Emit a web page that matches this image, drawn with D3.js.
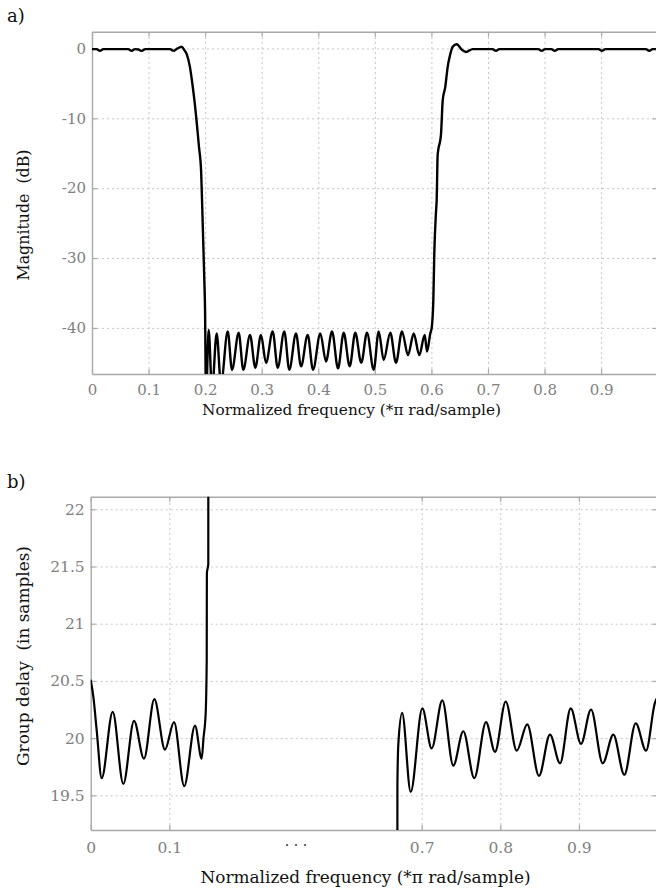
<!DOCTYPE html>
<html>
<head>
<meta charset="utf-8">
<script src="https://cdn.jsdelivr.net/npm/d3@7"></script>
<style>
  html, body { margin: 0; padding: 0; background: #fff; }
  svg { display: block; }
</style>
</head>
<body>
<div id="chart"></div>
<script>
// Panel a) magnitude response.
const magFreq = [
  0.000, 0.008, 0.014, 0.020, 0.064, 0.070, 0.076, 0.082, 0.088, 0.094,
  0.138, 0.144, 0.150, 0.1586, 0.1630, 0.1674, 0.1730, 0.1770, 0.1810, 0.1890,
  0.1930, 0.1945, 0.1967, 0.1985, 0.1998, 0.2015, 0.2063, 0.2121, 0.2204, 0.2280,
  0.2399, 0.2475, 0.2593, 0.2675, 0.2793, 0.2887, 0.2987, 0.3076, 0.3194, 0.3283,
  0.3399, 0.3488, 0.3606, 0.3695, 0.3813, 0.3907, 0.4036, 0.4136, 0.4243, 0.4349,
  0.4449, 0.4555, 0.4654, 0.4760, 0.4861, 0.4980, 0.5068, 0.5156, 0.5273, 0.5374,
  0.5480, 0.5586, 0.5687, 0.5786, 0.5881, 0.5922, 0.5980, 0.6005, 0.6034, 0.6051,
  0.6081, 0.6093, 0.6110, 0.6170, 0.6200, 0.6245, 0.6288, 0.6328, 0.6376, 0.6447,
  0.6540, 0.6611, 0.6730, 0.7080, 0.7140, 0.7200, 0.7890, 0.7950, 0.8010, 0.8120,
  0.8180, 0.8240, 0.8955, 0.9015, 0.9075, 0.9790, 0.9850, 0.9910, 1.0000
];
const magDb = [
  -0.10, -0.10, -0.35, -0.10, -0.10, -0.35, -0.10, -0.15, -0.35, -0.10,
  -0.10, -0.35, -0.05, 0.25, -0.20, -0.80, -2.6, -4.8, -7.4, -14.0,
  -17.8, -21.7, -27.9, -33.0, -37.2, -50.0, -40.3, -49.0, -40.8, -48.0,
  -40.5, -46.0, -40.7, -46.0, -41.0, -45.7, -41.0, -45.0, -40.5, -45.7,
  -40.5, -46.0, -40.8, -45.5, -41.0, -46.0, -40.8, -44.8, -40.5, -45.8,
  -40.7, -45.5, -40.7, -45.0, -40.7, -46.0, -40.5, -44.6, -40.7, -45.0,
  -40.5, -43.9, -40.8, -43.9, -41.0, -43.4, -40.8, -40.0, -36.0, -29.3,
  -23.4, -21.7, -15.3, -12.2, -7.4, -5.5, -2.6, -1.0, 0.23, 0.60,
  -0.20, -0.50, -0.10, -0.10, -0.35, -0.10, -0.10, -0.35, -0.10, -0.10,
  -0.35, -0.10, -0.10, -0.35, -0.10, -0.10, -0.35, -0.10, -0.10
];
const magXTicks = [0, 0.1, 0.2, 0.3, 0.4, 0.5, 0.6, 0.7, 0.8, 0.9, 1.0];
const magXLabels = ['0', '0.1', '0.2', '0.3', '0.4', '0.5', '0.6', '0.7', '0.8', '0.9', ''];
const magYTicks = [0, -10, -20, -30, -40];

// Panel b) group delay, two pieces either side of the broken axis.
const delayFreqLow = [
  0.0000, 0.0034, 0.0076, 0.0140, 0.0280, 0.0415, 0.0551, 0.0678, 0.0810, 0.0945,
  0.1060, 0.1190, 0.1327, 0.1412, 0.1435, 0.1463, 0.1476, 0.1478, 0.1496, 0.1497
];
const delayLow = [
  20.51, 20.36, 20.07, 19.65, 20.23, 19.60, 20.15, 19.82, 20.34, 19.90,
  20.14, 19.58, 20.11, 19.82, 20.00, 20.22, 20.68, 21.44, 21.52, 23.00
];
const delayFreqHigh = [
  0.6690, 0.6691, 0.6703, 0.6751, 0.6860, 0.7008, 0.7127, 0.7262, 0.7402, 0.7529,
  0.7669, 0.7818, 0.7933, 0.8069, 0.8209, 0.8343, 0.8492, 0.8632, 0.8760, 0.8896,
  0.9027, 0.9154, 0.9303, 0.9438, 0.9578, 0.9723, 0.9854, 0.9968, 1.0000
];
const delayHigh = [
  18.00, 19.60, 19.95, 20.22, 19.53, 20.26, 19.91, 20.33, 19.76, 20.06,
  19.65, 20.14, 19.88, 20.32, 19.89, 20.12, 19.67, 20.03, 19.78, 20.26,
  19.95, 20.25, 19.78, 20.03, 19.68, 20.13, 19.89, 20.31, 20.36
];
const delayXTicks = [0, 0.1, 0.7, 0.8, 0.9, 1.0];
const delayXLabels = ['0', '0.1', '0.7', '0.8', '0.9', ''];
const delayYTicks = [19.5, 20, 20.5, 21, 21.5, 22];

const W = 656, H = 888;
const FONT = '"DejaVu Serif", serif';
const AXIS_GREY = '#a9a9a9';
const GRID_GREY = '#c6c6c6';

const svg = d3.select('#chart').append('svg')
  .attr('width', W).attr('height', H)
  .style('font-family', FONT);

// Grid, box and inward ticks shared by both panels.
function drawFrame(id, x, y, xTicks, xLabels, yTicks, fontSize, padX) {
  const [left, right] = [x.range()[0], x.range()[x.range().length - 1]];
  const [bottom, top] = y.range();
  const g = svg.append('g');

  g.append('g')
    .attr('transform', `translate(0,${bottom})`)
    .call(d3.axisBottom(x).tickValues(xTicks.filter(d => d > 0)).tickSize(-(bottom - top)).tickFormat(''))
    .call(a => a.select('.domain').remove());
  g.append('g')
    .attr('transform', `translate(${left},0)`)
    .call(d3.axisLeft(y).tickValues(yTicks).tickSize(-(right - left)).tickFormat(''))
    .call(a => a.select('.domain').remove());
  g.selectAll('.tick line')
    .attr('stroke', GRID_GREY)
    .attr('stroke-width', 1)
    .attr('stroke-dasharray', '2,3');

  const axes = svg.append('g');
  axes.append('g')
    .attr('transform', `translate(0,${bottom})`)
    .call(d3.axisBottom(x).tickValues(xTicks).tickSize(-5).tickSizeOuter(0).tickPadding(padX)
      .tickFormat((d, i) => xLabels[i]));
  axes.append('g')
    .attr('transform', `translate(0,${top})`)
    .call(d3.axisTop(x).tickValues(xTicks).tickSize(-5).tickSizeOuter(0).tickFormat(''));
  axes.append('g')
    .attr('transform', `translate(${left},0)`)
    .call(d3.axisLeft(y).tickValues(yTicks).tickSize(-5).tickSizeOuter(0).tickPadding(6).tickFormat(d => String(d)));
  axes.append('g')
    .attr('transform', `translate(${right},0)`)
    .call(d3.axisRight(y).tickValues(yTicks).tickSize(-5).tickSizeOuter(0).tickFormat(''));

  // d3 puts font-family="sans-serif" on each axis group; override it.
  axes.selectAll('g').attr('font-family', FONT);
  axes.selectAll('.domain').attr('stroke', AXIS_GREY).attr('stroke-width', 1.4);
  axes.selectAll('.tick line').attr('stroke', AXIS_GREY).attr('stroke-width', 1.2);
  axes.selectAll('text')
    .attr('fill', '#808080')
    .attr('font-size', fontSize);

  svg.append('clipPath').attr('id', id)
    .append('rect').attr('x', left).attr('y', top).attr('width', right - left).attr('height', bottom - top);
}

function drawCurve(id, x, y, xs, ys, width) {
  const pts = xs.map((f, i) => [f, ys[i]]);
  const line = d3.line().x(d => x(d[0])).y(d => y(d[1])).curve(d3.curveMonotoneX);
  svg.append('path')
    .datum(pts)
    .attr('clip-path', `url(#${id})`)
    .attr('fill', 'none')
    .attr('stroke', '#000')
    .attr('stroke-width', width)
    .attr('stroke-linejoin', 'round')
    .attr('d', line);
}

function label(txt, x, y, size, opts = {}) {
  const t = svg.append('text')
    .attr('x', x).attr('y', y)
    .attr('fill', opts.fill || '#111')
    .attr('text-anchor', opts.anchor || 'start')
    .attr('font-family', FONT)
    .attr('font-size', size)
    .style('white-space', 'pre')
    .text(txt);
  if (opts.rotate) t.attr('transform', `rotate(-90,${x},${y})`);
  return t;
}

// ---- panel a)
const xA = d3.scaleLinear().domain([0, 1]).range([92, 657.7]);
const yA = d3.scaleLinear().domain([-46.6, 2.4]).range([374, 31.7]);
drawFrame('clipA', xA, yA, magXTicks, magXLabels, magYTicks, 15, 10);
drawCurve('clipA', xA, yA, magFreq, magDb, 2.4);

label('a)', 7, 22, 18);
label('Normalized frequency (*\u03c0 rad/sample)', 351.5, 414.5, 15.3, { anchor: 'middle' });
label('Magnitude  (dB)', 29, 215, 15.8, { anchor: 'middle', rotate: true });

// ---- panel b), broken x axis: 0-0.15 then 0.65-1
const xB = d3.scaleLinear().domain([0, 0.15, 0.65, 1]).range([90.7, 208.6, 382.4, 657.5]);
const yB = d3.scaleLinear().domain([19.197, 22.11]).range([830, 496.7]);
drawFrame('clipB', xB, yB, delayXTicks, delayXLabels, delayYTicks, 15.5, 11.5);
drawCurve('clipB', xB, yB, delayFreqLow, delayLow, 2.2);
drawCurve('clipB', xB, yB, delayFreqHigh, delayHigh, 2.2);

label('b)', 7, 488, 18);
label('\u00b7 \u00b7 \u00b7', 296, 849.5, 14, { anchor: 'middle', fill: '#333' });
label('Normalized frequency (*\u03c0 rad/sample)', 365.5, 882.5, 16.9, { anchor: 'middle' });
label('Group delay  (in samples)', 29, 656, 16.9, { anchor: 'middle', rotate: true });
</script>
</body>
</html>
